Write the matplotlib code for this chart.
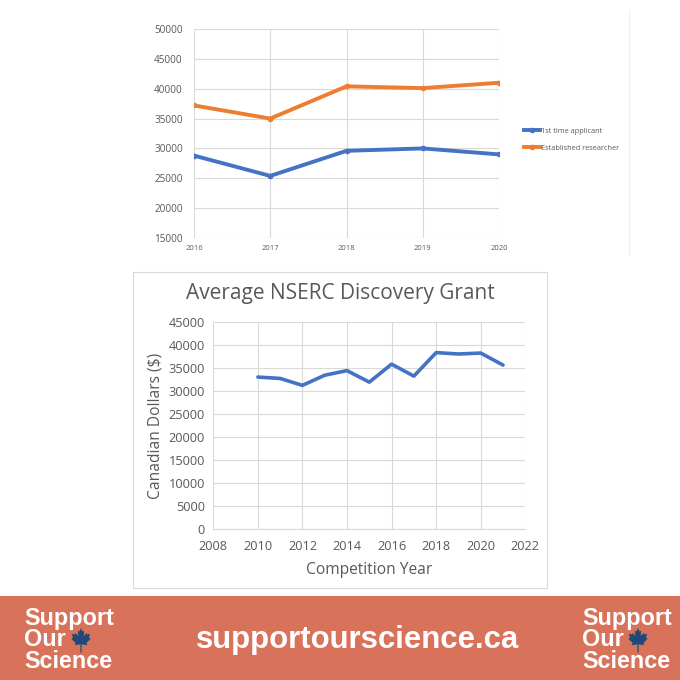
import matplotlib
matplotlib.use("Agg")
import matplotlib.pyplot as plt
from matplotlib.patches import Rectangle, Polygon
import numpy as np

plt.rcParams['font.family'] = ['Open Sans', 'DejaVu Sans']

# ---- data: top chart ----
top_years = [2016, 2017, 2018, 2019, 2020]
first_time = [28800, 25400, 29600, 30000, 29000]
established = [37200, 35000, 40400, 40100, 41000]
top_yticks = [15000, 20000, 25000, 30000, 35000, 40000, 45000, 50000]
top_labels = ["1st time applicant", "Established researcher"]

# ---- data: bottom chart ----
years = [2010, 2011, 2012, 2013, 2014, 2015, 2016, 2017, 2018, 2019, 2020, 2021]
avg_grant = [33000, 32700, 31200, 33400, 34400, 31900, 35800, 33200, 38300, 38000, 38200, 35600]
bot_xticks = [2008, 2010, 2012, 2014, 2016, 2018, 2020, 2022]
bot_yticks = [0, 5000, 10000, 15000, 20000, 25000, 30000, 35000, 40000, 45000]
title = "Average NSERC Discovery Grant"
xlabel = "Competition Year"
ylabel = "Canadian Dollars ($)"
site = "supportourscience.ca"
logo_lines = ["Support", "Our", "Science"]

W = H = 680
fig = plt.figure(figsize=(6.8, 6.8), dpi=100)
fig.patch.set_facecolor("white")

def fx(px):
    return px / W
def fy(py):
    return 1 - py / H

BLUE = "#4472C4"
ORANGE = "#ED7D31"
GRID = "#D9D9D9"
TXT = "#595959"

# ---- top chart ----
ax1 = fig.add_axes([fx(194), fy(238), fx(499) - fx(194), fy(29) - fy(238)])
ax1.plot(top_years, first_time, color=BLUE, lw=2.8, marker='o', ms=3, label=top_labels[0], zorder=3)
ax1.plot(top_years, established, color=ORANGE, lw=2.8, marker='o', ms=3, label=top_labels[1], zorder=3)
ax1.set_xlim(2016, 2020)
ax1.set_ylim(15000, 50000)
ax1.set_xticks(top_years)
ax1.set_yticks(top_yticks)
ax1.grid(True, color=GRID, lw=0.8)
for s in ax1.spines.values():
    s.set_visible(False)
ax1.tick_params(axis='both', length=0, colors=TXT)
ax1.tick_params(axis='y', labelsize=7.2, pad=8)
ax1.tick_params(axis='x', labelsize=5.5, pad=5)
ax1.set_axisbelow(True)
leg = ax1.legend(loc='center left', bbox_to_anchor=(1.06, 0.47), frameon=False,
                 fontsize=5.3, handlelength=2.2, handletextpad=0.1, labelspacing=1.3,
                 labelcolor=TXT)
# faint right border of the top image
fig.add_artist(plt.Line2D([fx(629), fx(629)], [fy(255), fy(10)], color="#EEEEEE", lw=0.8))

# ---- bottom chart frame ----
fig.add_artist(Rectangle((fx(133), fy(588)), fx(547) - fx(133), fy(272) - fy(588),
                         transform=fig.transFigure, fill=False, edgecolor=GRID, lw=0.8))

ax2 = fig.add_axes([fx(213.3), fy(529.3), fx(525.3) - fx(213.3), fy(321.7) - fy(529.3)])
ax2.plot(years, avg_grant, color=BLUE, lw=2.6, solid_capstyle='round', zorder=3)
ax2.set_xlim(2008, 2022)
ax2.set_ylim(0, 45000)
ax2.set_xticks(bot_xticks)
ax2.set_yticks(bot_yticks)
ax2.grid(True, color=GRID, lw=0.8)
for s in ax2.spines.values():
    s.set_visible(False)
ax2.spines['bottom'].set_visible(True)
ax2.spines['bottom'].set_color(GRID)
ax2.tick_params(axis='both', length=0, colors=TXT, labelsize=9.2)
ax2.tick_params(axis='y', pad=6)
ax2.tick_params(axis='x', pad=8)
ax2.set_axisbelow(True)
ax2.set_xlabel(xlabel, fontsize=11.2, color=TXT, labelpad=6)
ax2.set_ylabel(ylabel, fontsize=11.2, color=TXT, labelpad=4)
fig.text(fx(340), fy(294), title, ha='center', va='center', fontsize=15, color=TXT)

# ---- banner ----
axb = fig.add_axes([0, 0, 1, fy(596)])
axb.set_xlim(0, W)
axb.set_ylim(680, 596)
axb.axis('off')
axb.add_patch(Rectangle((0, 596), W, 84, facecolor="#D9725A", edgecolor='none'))
axb.text(358, 640, site, ha='center', va='center', fontsize=22.4, fontweight='bold',
         color='white', family=['Liberation Sans', 'DejaVu Sans'])

leaf = np.array([
    (0, 1.0), (0.16, 0.72), (0.32, 0.8), (0.26, 0.38), (0.55, 0.62), (0.6, 0.5),
    (0.92, 0.56), (0.8, 0.26), (0.96, 0.16), (0.55, -0.14), (0.62, -0.32),
    (0.06, -0.26), (0.06, -0.9), (-0.06, -0.9), (-0.06, -0.26), (-0.62, -0.32),
    (-0.55, -0.14), (-0.96, 0.16), (-0.8, 0.26), (-0.92, 0.56), (-0.6, 0.5),
    (-0.55, 0.62), (-0.26, 0.38), (-0.32, 0.8), (-0.16, 0.72)])

def logo(x0, leaf_cx):
    for i, t in enumerate(logo_lines):
        axb.text(x0, 618 + i * 22, t, ha='left', va='center', fontsize=16.8,
                 fontweight='bold', color='white', family=['Liberation Sans', 'DejaVu Sans'])
    pts = np.column_stack([leaf_cx + leaf[:, 0] * 10, 641 - leaf[:, 1] * 13])
    axb.add_patch(Polygon(pts, closed=True, facecolor="#1F4A78", edgecolor='none'))

logo(24, 81)
logo(582, 638)

fig.savefig("out.png", dpi=100, facecolor="white")
